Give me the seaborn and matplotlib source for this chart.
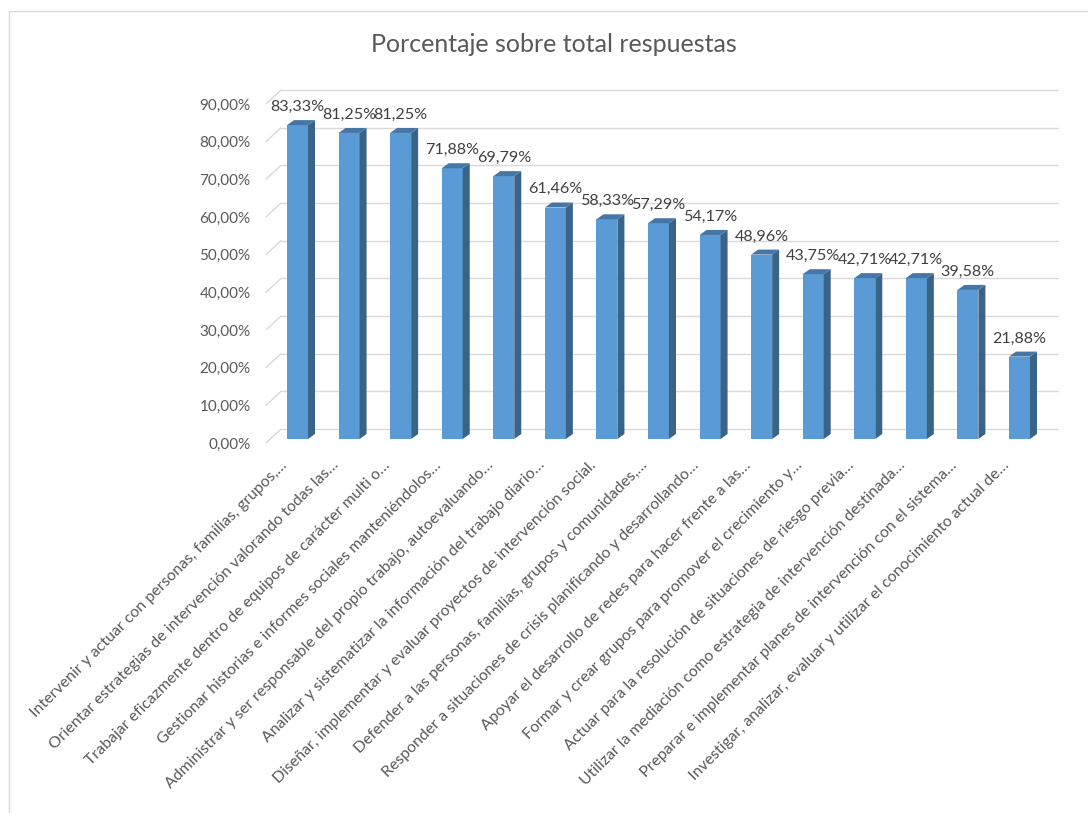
import numpy as np
import pandas as pd
import matplotlib
matplotlib.use("Agg")
import matplotlib.pyplot as plt
import seaborn as sns
from matplotlib.patches import Polygon, Rectangle
from matplotlib.lines import Line2D
from matplotlib.transforms import IdentityTransform, ScaledTranslation

title = "Porcentaje sobre total respuestas"
categories = [
    "Intervenir y actuar con personas, familias, grupos,…",
    "Orientar estrategias de intervención valorando todas las…",
    "Trabajar eficazmente dentro de equipos de carácter multi o…",
    "Gestionar historias e informes sociales manteniéndolos…",
    "Administrar y ser responsable del propio trabajo, autoevaluando…",
    "Analizar y sistematizar la información del trabajo diario…",
    "Diseñar, implementar y evaluar proyectos de intervención social.",
    "Defender a las personas, familias, grupos y comunidades,…",
    "Responder a situaciones de crisis planificando y desarrollando…",
    "Apoyar el desarrollo de redes para hacer frente a las…",
    "Formar y crear grupos para promover el crecimiento y…",
    "Actuar para la resolución de situaciones de riesgo previa…",
    "Utilizar la mediación como estrategia de intervención destinada…",
    "Preparar e implementar planes de intervención con el sistema…",
    "Investigar, analizar, evaluar y utilizar el conocimiento actual de…",
]
values = [83.33, 81.25, 81.25, 71.88, 69.79, 61.46, 58.33, 57.29, 54.17,
          48.96, 43.75, 42.71, 42.71, 39.58, 21.88]
y_ticks = [0, 10, 20, 30, 40, 50, 60, 70, 80, 90]

def pct(v):
    return f"{v:.2f}".replace(".", ",") + "%"

sns.set_theme(style="white")
plt.rcParams["font.family"] = ["Lato", "DejaVu Sans"]

W, H = 1088, 813
DPI = 100
fig = plt.figure(figsize=(W / DPI, H / DPI), dpi=DPI)
fig.patch.set_facecolor("white")

# outer chart frame
fig.add_artist(Rectangle((9, -20), 2000, H - 11 + 20, transform=IdentityTransform(),
                         fill=False, edgecolor="#D9D9D9", linewidth=1.0, zorder=-2))

ax_l, ax_r = 266, 1043
ax_b, ax_t = 439, 100
ax = fig.add_axes([ax_l / W, (H - ax_b) / H, (ax_r - ax_l) / W, (ax_b - ax_t) / H])
ax.patch.set_visible(False)

df = pd.DataFrame({"cat": categories, "val": values})
FRONT = "#5B9BD5"
SIDE = "#3A6388"
TOP = "#4676A6"
sns.barplot(data=df, x="cat", y="val", ax=ax, color=FRONT, width=0.407,
            saturation=1, edgecolor="none", linewidth=0, zorder=3)

ax.set_xlim(-0.611, 14.456)
ax.set_ylim(0, 90)
for s in ax.spines.values():
    s.set_visible(False)
ax.set_xlabel("")
ax.set_ylabel("")
ax.grid(False)

ax.set_yticks(y_ticks)
ax.set_yticklabels([pct(v) for v in y_ticks])
ax.tick_params(axis="y", length=0, pad=11.0, labelsize=11, labelcolor="#595959")
for lbl in ax.get_yticklabels():
    lbl.set_transform(lbl.get_transform() + ScaledTranslation(0, -4 / DPI, fig.dpi_scale_trans))

ax.set_xticks(range(len(categories)))
ax.set_xticklabels(categories, rotation=45, ha="right", rotation_mode="anchor",
                   fontsize=11.4, color="#595959")
ax.tick_params(axis="x", length=0, pad=0)
for lbl in ax.get_xticklabels():
    lbl.set_va("center")
    lbl.set_transform(lbl.get_transform() + ScaledTranslation(-13 / DPI, -24 / DPI, fig.dpi_scale_trans))

# 3D-like gridlines (back wall + left wall diagonals)
DX, DY = 7, 5
for v in y_ticks:
    _, yd = ax.transData.transform((0, v))
    x0 = ax_l
    xs = 281
    xe = 1058
    fig.add_artist(Line2D([x0, xs], [yd - 4, yd + 10], transform=IdentityTransform(),
                          color="#D9D9D9", linewidth=1.0, zorder=-1))
    fig.add_artist(Line2D([xs, xe], [yd + 10, yd + 10], transform=IdentityTransform(),
                          color="#D9D9D9", linewidth=1.0, zorder=-1))

# side and top faces of bars
bars = list(ax.patches)
for p in bars:
    (x0, y0), (x1, y1) = ax.transData.transform([(p.get_x(), p.get_y()),
                                                 (p.get_x() + p.get_width(), p.get_y() + p.get_height())])
    side = Polygon([(x1, y0), (x1 + DX, y0 + DY), (x1 + DX, y1 + DY), (x1, y1)],
                   closed=True, transform=IdentityTransform(), facecolor=SIDE,
                   edgecolor="none", zorder=4)
    top = Polygon([(x0, y1), (x1, y1), (x1 + DX, y1 + DY), (x0 + DX, y1 + DY)],
                  closed=True, transform=IdentityTransform(), facecolor=TOP,
                  edgecolor="none", zorder=4)
    fig.add_artist(side)
    fig.add_artist(top)

ax.bar_label(ax.containers[0], labels=[pct(v) for v in values], padding=8.0,
             fontsize=11.6, color="#404040", zorder=6)

fig.text(553.5 / W, 1 - 45 / H, title, ha="center", va="center",
         fontsize=18, color="#595959")

fig.savefig("out.png", dpi=DPI)
